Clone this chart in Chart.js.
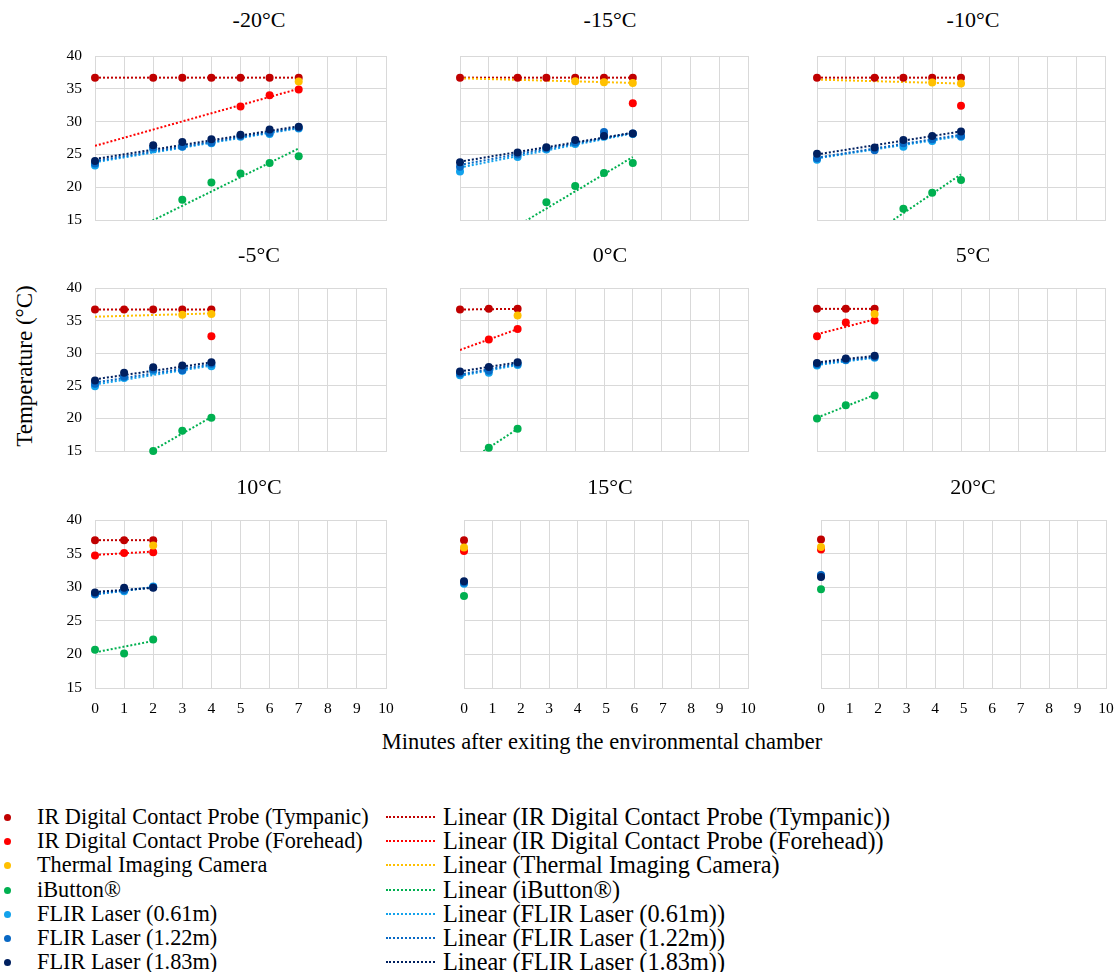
<!DOCTYPE html>
<html>
<head>
<meta charset="utf-8">
<script src="https://cdn.jsdelivr.net/npm/chart.js@4"></script>
<style>
  body { margin: 0; background: #fff; font-family: "Liberation Serif", serif; color: #000; }
  #page { position: relative; width: 1116px; height: 972px; overflow: hidden; }
  .panel { position: absolute; }
  .title { position: absolute; font-size: 22px; transform: translate(-50%, -50%); white-space: nowrap; }
  .axis-title { position: absolute; font-size: 22.5px; white-space: nowrap; transform: translate(-50%, -50%); }
  .legend-row { position: absolute; white-space: nowrap; height: 24px; line-height: 24px; transform: translateY(-50%); }
  .dot { position: absolute; width: 7px; height: 7px; border-radius: 50%; top: 9px; }
  .dash { position: absolute; width: 49px; top: 11px; border-top: 2px dotted; }
</style>
</head>
<body>
<div id="page"></div>
<script>
// panel titles (environmental chamber temperature)
const panelTitles = ["-20°C", "-15°C", "-10°C", "-5°C", "0°C", "5°C", "10°C", "15°C", "20°C"];

const seriesNames = [
    "IR Digital Contact Probe (Tympanic)",
    "IR Digital Contact Probe (Forehead)",
    "Thermal Imaging Camera",
    "iButton®",
    "FLIR Laser (0.61m)",
    "FLIR Laser (1.22m)",
    "FLIR Laser (1.83m)",
];

// values per panel, indexed by minute (null = no reading)
const tympanic = [
    [36.7, null, 36.7, 36.7, 36.7, 36.7, 36.7, 36.7],
    [36.7, null, 36.7, 36.7, 36.7, 36.7, 36.7],
    [36.7, null, 36.7, 36.7, 36.7, 36.7],
    [36.7, 36.7, 36.7, 36.7, 36.7],
    [36.7, 36.8, 36.8],
    [36.8, 36.8, 36.8],
    [37.0, 37.0, 37.0],
    [37.0],
    [37.1],
];
const forehead = [
    [null, null, null, null, null, 32.3, 34.0, 34.9],
    [null, null, null, null, null, null, 32.8],
    [null, null, null, null, null, 32.4],
    [null, null, null, null, 32.6],
    [null, 32.1, 33.7],
    [32.6, 34.7, 35.0],
    [34.7, 35.1, 35.2],
    [35.4],
    [35.6],
];
const thermal = [
    [null, null, null, null, null, null, null, 36.1],
    [null, null, null, null, 36.15, 36.0, 35.9],
    [null, null, null, null, 35.95, 35.8],
    [null, null, null, 35.9, 36.0],
    [null, null, 35.8],
    [null, null, 36.0],
    [null, null, 36.2],
    [35.9],
    [36.0],
];
const iButton = [
    [null, null, null, 18.1, 20.7, 22.1, 23.7, 24.7],
    [null, null, null, 17.7, 20.2, 22.15, 23.7],
    [null, null, null, 16.7, 19.15, 21.1],
    [null, null, 15.0, 18.1, 20.1],
    [null, 15.5, 18.4],
    [20.0, 22.0, 23.5],
    [20.7, 20.15, 22.2],
    [28.7],
    [29.7],
];
const flir061 = [
    [23.3, null, 25.8, 26.15, 26.7, 27.7, 28.1, 28.95],
    [22.4, null, 24.6, 25.75, 26.6, 27.7, 28.1],
    [24.2, null, 25.9, 26.15, 27.05, 27.7],
    [24.95, 26.2, 27.3, 27.3, 28.0],
    [26.6, 27.0, 28.2],
    [28.1, 28.9, 29.3],
    [28.9, 29.4, 30.1],
    [30.5],
    [31.7],
];
const flir122 = [
    [23.6, null, 26.05, 26.2, 26.8, 27.8, 28.3, 29.05],
    [23.1, null, 25.0, 25.95, 26.8, 28.4, 28.2],
    [24.4, null, 25.65, 26.7, 27.3, 27.8],
    [25.3, 26.4, 27.5, 27.4, 28.4],
    [26.9, 27.3, 28.4],
    [28.3, 29.0, 29.4],
    [29.0, 29.6, 30.0],
    [30.7],
    [31.8],
];
const flir183 = [
    [24.0, null, 26.4, 26.9, 27.3, 28.0, 28.8, 29.2],
    [23.8, null, 25.3, 26.1, 27.2, 27.8, 28.2],
    [25.1, null, 26.05, 27.2, 27.8, 28.5],
    [25.8, 27.0, 27.85, 28.1, 28.6],
    [27.2, 27.9, 28.6],
    [28.5, 29.2, 29.6],
    [29.2, 29.9, 29.9],
    [30.9],
    [31.5],
];

// linear trendlines: [value at minute 0, value at last minute], null = none
const trendTympanic = [[36.7, 36.7], [36.7, 36.7], [36.7, 36.7], [36.7, 36.7], [36.7, 36.8], [36.8, 36.8], [37.0, 37.0], null, null];
const trendForehead = [[26.3, 35.0], null, null, null, [30.5, 33.7], [32.9, 35.2], [34.8, 35.3], null, null];
const trendThermal = [null, [36.6, 35.9], [36.4, 35.8], [35.6, 36.1], null, null, null, null, null];
const trendIButton = [[10.6, 25.9], [8.9, 24.6], [7.2, 21.95], [10.1, 20.2], [12.6, 18.4], [20.1, 23.6], [20.3, 22.0], null, null];
const trend061 = [[23.8, 29.0], [23.0, 28.2], [24.4, 27.8], [25.2, 28.1], [26.5, 28.2], [28.2, 29.3], [28.9, 30.0], null, null];
const trend122 = [[24.0, 29.1], [23.4, 28.3], [24.5, 28.0], [25.5, 28.3], [26.7, 28.4], [28.4, 29.4], [29.0, 30.0], null, null];
const trend183 = [[24.3, 29.3], [23.9, 28.3], [25.0, 28.5], [26.0, 28.6], [27.2, 28.6], [28.6, 29.6], [29.3, 29.9], null, null];

const yTicks = [15, 20, 25, 30, 35, 40];
const xTicks = [0, 1, 2, 3, 4, 5, 6, 7, 8, 9, 10];

const allValues = [tympanic, forehead, thermal, iButton, flir061, flir122, flir183];
const allTrends = [trendTympanic, trendForehead, trendThermal, trendIButton, trend061, trend122, trend183];
const colors = ["#C00000", "#FF0000", "#FFC000", "#00B050", "#12A2EC", "#0868C4", "#002060"];

// plot area of each panel: [left, top, width, height]
const plotRects = [
    [95, 56, 291, 164], [460, 56, 288, 164], [817, 56, 288, 164],
    [95, 288, 291, 163], [460, 288, 288, 163], [817, 288, 288, 163],
    [95, 520, 291, 168], [464, 520, 284, 168], [821, 520, 285, 168],
];
const titleCenters = [
    [259, 20], [610, 20], [973, 20],
    [259, 255], [610, 255], [973, 255],
    [259, 487], [610, 487], [973, 487],
];

const page = document.getElementById("page");
const PAD_L = 50, PAD_T = 12, PAD_R = 12, PAD_B = 36;
const gridColor = "#D9D9D9";
const tickFont = { family: "Liberation Serif", size: 15.5 };

function fixBox(s, w, h) {
    if (w !== null) s.width = w;
    if (h !== null) s.height = h;
    s.paddingTop = 0; s.paddingBottom = 0; s.paddingLeft = 0; s.paddingRight = 0;
}

panelTitles.forEach((title, p) => {
    const [l, t, w, h] = plotRects[p];
    const box = document.createElement("div");
    box.className = "panel";
    box.style.left = (l - PAD_L) + "px";
    box.style.top = (t - PAD_T) + "px";
    box.style.width = (w + PAD_L + PAD_R) + "px";
    box.style.height = (h + PAD_T + PAD_B) + "px";
    const canvas = document.createElement("canvas");
    box.appendChild(canvas);
    page.appendChild(box);

    const tl = document.createElement("div");
    tl.className = "title";
    tl.textContent = title;
    tl.style.left = titleCenters[p][0] + "px";
    tl.style.top = titleCenters[p][1] + "px";
    page.appendChild(tl);

    const lastMinute = Math.max(...allValues.map(v => v[p].length - 1));
    const datasets = [];
    allValues.forEach((vals, s) => {
        const pts = [];
        vals[p].forEach((y, x) => { if (y !== null) pts.push({ x: x, y: y }); });
        datasets.push({
            type: "scatter",
            label: seriesNames[s],
            data: pts,
            backgroundColor: colors[s],
            borderWidth: 0,
            pointRadius: 4,
            pointHoverRadius: 4,
            clip: false,
            order: 6 - s,
        });
        const tr = allTrends[s][p];
        if (tr) {
            datasets.push({
                type: "line",
                label: "Linear (" + seriesNames[s] + ")",
                data: [{ x: 0, y: tr[0] }, { x: lastMinute, y: tr[1] }],
                borderColor: colors[s],
                borderWidth: 2,
                borderDash: [2, 2],
                pointRadius: 0,
                fill: false,
                order: 20 - s,
            });
        }
    });

    const col = p % 3, row = Math.floor(p / 3);
    new Chart(canvas, {
        type: "scatter",
        data: { datasets: datasets },
        options: {
            responsive: true,
            maintainAspectRatio: false,
            animation: false,
            layout: { padding: { left: 0, top: PAD_T, right: PAD_R, bottom: 0 } },
            plugins: { legend: { display: false }, tooltip: { enabled: false } },
            scales: {
                x: {
                    type: "linear",
                    min: 0, max: 10,
                    afterBuildTicks: s => { s.ticks = xTicks.map(v => ({ value: v })); },
                    afterFit: s => fixBox(s, null, PAD_B),
                    grid: { color: gridColor, drawTicks: false },
                    border: { color: gridColor },
                    ticks: { display: row === 2, color: "#000", font: tickFont, padding: 12 },
                },
                y: {
                    type: "linear",
                    min: 15, max: 40,
                    afterBuildTicks: s => { s.ticks = yTicks.map(v => ({ value: v })); },
                    afterFit: s => fixBox(s, PAD_L, null),
                    grid: { color: gridColor, drawTicks: false },
                    border: { color: gridColor },
                    ticks: { display: col === 0, color: "#000", font: tickFont, padding: 13 },
                },
            },
        },
    });
});

// axis titles
const yTitle = document.createElement("div");
yTitle.className = "axis-title";
yTitle.textContent = "Temperature (°C)";
yTitle.style.fontSize = "23px";
yTitle.style.left = "25px";
yTitle.style.top = "366px";
yTitle.style.transform = "translate(-50%, -50%) rotate(-90deg)";
page.appendChild(yTitle);

const xTitle = document.createElement("div");
xTitle.className = "axis-title";
xTitle.textContent = "Minutes after exiting the environmental chamber";
xTitle.style.left = "602px";
xTitle.style.top = "742px";
page.appendChild(xTitle);

// legend
seriesNames.forEach((name, s) => {
    const yc = 817 + s * 24.2;
    const a = document.createElement("div");
    a.className = "legend-row";
    a.style.left = "0px";
    a.style.top = yc + "px";
    a.style.fontSize = "22.3px";
    a.innerHTML = '<span class="dot" style="left:4px;background:' + colors[s] + '"></span>' +
        '<span style="position:absolute;left:37px">' + name + '</span>';
    page.appendChild(a);

    const b = document.createElement("div");
    b.className = "legend-row";
    b.style.left = "386px";
    b.style.top = yc + "px";
    b.style.fontSize = "24.3px";
    b.innerHTML = '<span class="dash" style="left:0;border-color:' + colors[s] + '"></span>' +
        '<span style="position:absolute;left:57px">Linear (' + name + ')</span>';
    page.appendChild(b);
});
</script>
</body>
</html>
